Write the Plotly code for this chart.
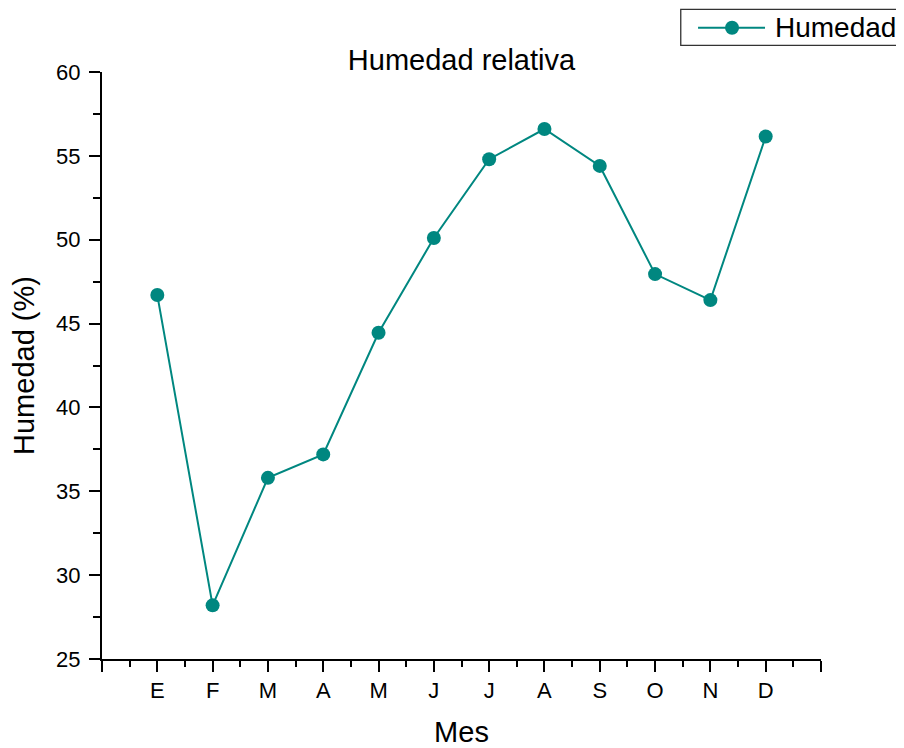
import plotly.graph_objects as go

months = ["E", "F", "M", "A", "M", "J", "J", "A", "S", "O", "N", "D"]
humedad = [46.7, 28.2, 35.8, 37.2, 44.45, 50.1, 54.8, 56.6, 54.4, 47.95, 46.4, 56.15]
x_pos = list(range(1, 13))

TEAL = "#008780"
FONT = "Arial, Liberation Sans, sans-serif"

# page body has an 8px margin; figure is sized so it fits the 904x748 window
OFF = 8
W, H = 904 - OFF, 748 - OFF
L = 101.7 - OFF
T = 71.7 - OFF
R = W - (821 - OFF)
B = H - (658.7 - OFF)
PW, PH = W - L - R, H - T - B


def fx(px):
    return (px - OFF - L) / PW


def fy(py):
    return (H - B - (py - OFF)) / PH


fig = go.Figure()
fig.add_trace(go.Scatter(
    x=x_pos, y=humedad, mode="lines+markers", name="Humedad",
    line=dict(color=TEAL, width=2),
    marker=dict(color=TEAL, size=14),
    showlegend=False,
))

# Custom legend (box, line sample, marker, text), positions in reference pixels
ly = 27.5
shapes = [
    dict(type="rect", xref="paper", yref="paper", x0=fx(680.7), x1=fx(904.5), y0=fy(45), y1=fy(9),
         line=dict(color="#333333", width=1.3), fillcolor="white", layer="above"),
    dict(type="line", xref="paper", yref="paper", x0=fx(698), x1=fx(765), y0=fy(ly), y1=fy(ly),
         line=dict(color=TEAL, width=2), layer="above"),
    dict(type="circle", xref="paper", yref="paper", xsizemode="pixel", ysizemode="pixel",
         xanchor=fx(732), yanchor=fy(ly), x0=-7, x1=7, y0=-7, y1=7,
         line=dict(color=TEAL, width=0), fillcolor=TEAL, layer="above"),
]
annotations = [
    dict(text="Humedad", xref="paper", yref="paper", x=fx(773), y=fy(ly), xanchor="left", yanchor="middle",
         showarrow=False, font=dict(family=FONT, size=28, color="black")),
]

fig.update_layout(
    width=W, height=H,
    margin=dict(l=L, r=R, t=T, b=B, autoexpand=False),
    paper_bgcolor="white", plot_bgcolor="white",
    font=dict(family=FONT, color="black"),
    title=dict(text="Humedad relativa", x=0.5, xref="paper", xanchor="center",
               y=1 - (60 - OFF) / H, yanchor="middle", font=dict(family=FONT, size=29, color="black")),
    shapes=shapes, annotations=annotations,
    xaxis=dict(
        range=[0, 13], tickmode="array", tickvals=list(range(0, 14)),
        ticktext=[""] + months + [""],
        ticks="outside", ticklen=11, tickwidth=2, tickcolor="black",
        showline=True, linecolor="black", linewidth=2, mirror=False,
        showgrid=False, zeroline=False,
        tickfont=dict(family=FONT, size=22, color="black"),
        minor=dict(ticks="outside", ticklen=6, tickwidth=2, tickcolor="black", tickmode="linear",
                   tick0=0.5, dtick=1, showgrid=False),
        title=dict(text="Mes", font=dict(family=FONT, size=29, color="black"), standoff=20),
    ),
    yaxis=dict(
        range=[25, 60], tickmode="linear", tick0=25, dtick=5,
        ticks="outside", ticklen=11, tickwidth=2, tickcolor="black",
        showline=True, linecolor="black", linewidth=2, mirror=False,
        showgrid=False, zeroline=False,
        tickfont=dict(family=FONT, size=22, color="black"),
        ticklabelstandoff=4,
        minor=dict(ticks="outside", ticklen=7, tickwidth=2, tickcolor="black", tickmode="linear",
                   tick0=27.5, dtick=5, showgrid=False),
        title=dict(text="Humedad (%)", font=dict(family=FONT, size=29, color="black"), standoff=14),
    ),
)

fig.write_html("out.html")
